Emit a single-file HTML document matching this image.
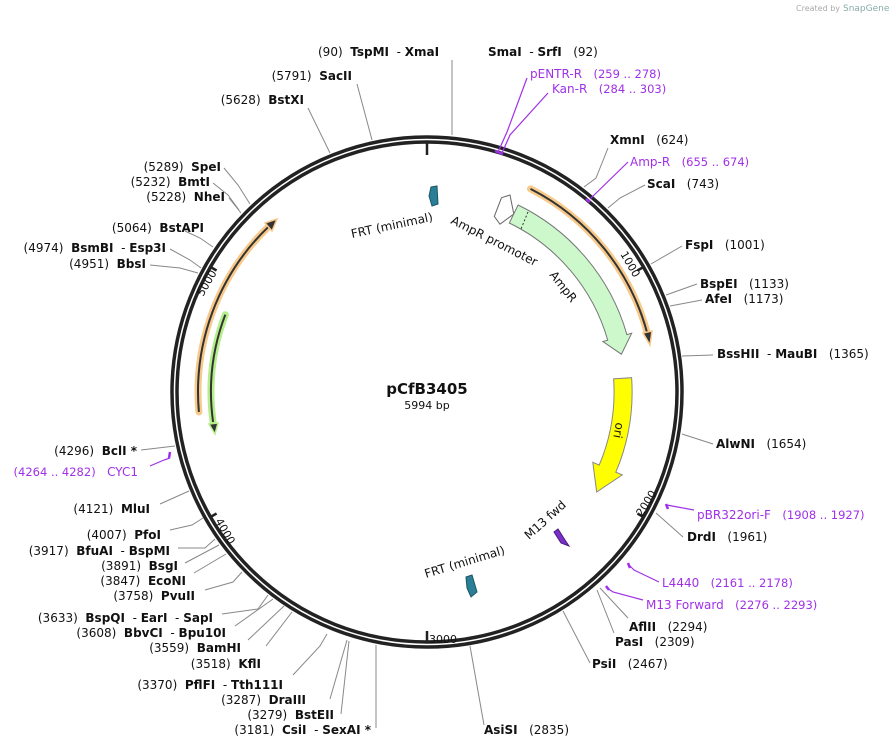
<!DOCTYPE html>
<html><head><meta charset="utf-8"><style>
body{margin:0;background:#fff}
svg{display:block}
text{font-family:"DejaVu Sans","Liberation Sans",sans-serif;font-size:12px;fill:#111;white-space:pre}
.b{font-weight:bold}
.p{fill:#a030e8}
.l{stroke:#888;stroke-width:1;fill:none}
.pl{stroke:#a030e8;stroke-width:1.2;fill:none}
.pm{stroke:#a030e8;stroke-width:2.5;fill:none}
</style></head><body>
<svg width="893" height="748" viewBox="0 0 893 748" xmlns="http://www.w3.org/2000/svg" xml:space="preserve">
<text x="796" y="11" style="font-size:8px;fill:#aaa">Created by</text>
<text x="843" y="11" style="font-size:9px;fill:#8aa">SnapGene</text>

<circle cx="427" cy="392" r="255" fill="none" stroke="#222" stroke-width="3.5"/>
<circle cx="427" cy="392" r="250" fill="none" stroke="#222" stroke-width="3.5"/>
<g stroke="#222" stroke-width="2.5">
<line x1="427" y1="141" x2="427" y2="155"/>
<g transform="rotate(60 427 392)"><line x1="427" y1="141" x2="427" y2="149"/></g>
<g transform="rotate(120 427 392)"><line x1="427" y1="141" x2="427" y2="149"/></g>
<g transform="rotate(180 427 392)"><line x1="427" y1="141" x2="427" y2="153"/></g>
<g transform="rotate(240 427 392)"><line x1="427" y1="141" x2="427" y2="149"/></g>
<g transform="rotate(300 427 392)"><line x1="427" y1="141" x2="427" y2="149"/></g>
</g>
<text transform="translate(620,254) rotate(60)" style="font-size:11px">1000</text>
<text transform="translate(642,517) rotate(-58)" style="font-size:11px">2000</text>
<text x="429" y="643" style="font-size:11px">3000</text>
<text transform="translate(215,521) rotate(60)" style="font-size:11px">4000</text>
<text transform="translate(203,297) rotate(-60)" style="font-size:11px">5000</text>

<path d="M530.5,188.9 A228,228 0 0 1 647.2,333" fill="none" stroke="#f7c98a" stroke-width="7" stroke-linecap="round"/>
<path d="M530.5,188.9 A228,228 0 0 1 647.2,333" fill="none" stroke="#333" stroke-width="2"/>
<polygon points="643,333 652,331 650,345" fill="#333" stroke="#f7c98a" stroke-width="1.5"/>
<path d="M198.9,412 A229,229 0 0 1 267.9,227.3" fill="none" stroke="#f7c98a" stroke-width="7" stroke-linecap="round"/>
<path d="M198.9,412 A229,229 0 0 1 267.9,227.3" fill="none" stroke="#333" stroke-width="2"/>
<polygon points="265,223 272,231 277,219" fill="#333" stroke="#f7c98a" stroke-width="1.5"/>
<path d="M225.3,314.7 A216,216 0 0 0 213.1,422" fill="none" stroke="#b5ee8a" stroke-width="7" stroke-linecap="round"/>
<path d="M225.3,314.7 A216,216 0 0 0 213.1,422" fill="none" stroke="#333" stroke-width="2"/>
<polygon points="209,424 218,423 215,434" fill="#333" stroke="#b5ee8a" stroke-width="1.5"/>

<polygon points="501.5,197.7 510,195 513.8,214 500,224.2 494.3,216.4" fill="#fff" stroke="#666" stroke-width="1"/>
<path d="M518.1,205 A208,208 0 0 1 626.9,334.6 L631.7,333.2 L621.4,354.2 L602.9,341.5 L607.7,340.1 A188,188 0 0 0 509.3,223 Z" fill="#ccf8cc" stroke="#777" stroke-width="1"/>
<line x1="528" y1="212" x2="521" y2="229" stroke="#333" stroke-dasharray="2,2"/>
<path d="M631.6,377.7 A205,205 0 0 1 615.8,472.2 L622.3,474.9 L596.7,492 L592.8,462.3 L599.2,465.1 A187,187 0 0 0 613.6,378.9 Z" fill="#ffff00" stroke="#888" stroke-width="1"/>
<polygon points="431,187 437,186 438,204 432,206 429,196" fill="#2a7f96" stroke="#1b5566" stroke-width="1"/>
<polygon points="466,577 472,575 477,592 471,597 467,588" fill="#2a7f96" stroke="#1b5566" stroke-width="1"/>
<polygon points="554,532 558,529 565,540 569,546 561,543" fill="#7b2ec8" stroke="#4a1a80" stroke-width="1"/>

<text transform="translate(352,238) rotate(-12)">FRT (minimal)</text>
<text transform="translate(450,223) rotate(27)">AmpR promoter</text>
<text transform="translate(549,275) rotate(52)">AmpR</text>
<text transform="translate(616,422) rotate(100)">ori</text>
<text transform="translate(529,540) rotate(-42)">M13 fwd</text>
<text transform="translate(426,578) rotate(-17)">FRT (minimal)</text>

<text x="427" y="394" text-anchor="middle" class="b" style="font-size:15px">pCfB3405</text>
<text x="427" y="409" text-anchor="middle" style="font-size:11px">5994 bp</text>

<path class="l" d="M452,135 L452,60"/>
<path class="l" d="M584,187 L596,178 L608,148"/>
<path class="l" d="M608,208 L620,198 L645,185"/>
<path class="l" d="M651,264 L682,246"/>
<path class="l" d="M666,295 L697,284"/>
<path class="l" d="M670,306 L702,300"/>
<path class="l" d="M682,356 L713,355"/>
<path class="l" d="M682,434 L713,444"/>
<path class="l" d="M656,513 L683,537"/>
<path class="l" d="M600,588 L628,618"/>
<path class="l" d="M597,590 L614,633"/>
<path class="l" d="M563,611 L590,663"/>
<path class="l" d="M470,646 L484,725"/>
<path class="l" d="M376,645 L376,728"/>
<path class="l" d="M349,641 L341,714"/>
<path class="l" d="M347,640 L330,699"/>
<path class="l" d="M327,634 L320,646 L293,675"/>
<path class="l" d="M292,612 L266,646"/>
<path class="l" d="M284,606 L248,640"/>
<path class="l" d="M273,599 L235,626"/>
<path class="l" d="M268,595 L258,609 L222,614"/>
<path class="l" d="M242,572 L233,582 L205,590"/>
<path class="l" d="M226,554 L194,573"/>
<path class="l" d="M219,545 L185,563"/>
<path class="l" d="M215,539 L205,548 L178,548"/>
<path class="l" d="M203,518 L192,525 L170,530"/>
<path class="l" d="M189,491 L160,504"/>
<path class="l" d="M175,446 L141,450"/>
<path class="l" d="M198,273 L180,268 L150,265"/>
<path class="l" d="M201,268 L190,260 L170,249"/>
<path class="l" d="M213,247 L200,238 L185,231"/>
<path class="l" d="M241,213 L229,198"/>
<path class="l" d="M239,210 L228,195 L213,183"/>
<path class="l" d="M250,204 L238,185 L224,168"/>
<path class="l" d="M330,153 L308,108"/>
<path class="l" d="M372,140 L357,84"/>
<path class="pm" d="M495,151 L503,154"/>
<path class="pl" d="M498,152 L507,132 L527,78"/>
<path class="pl" d="M502,153 L510,135 L548,93"/>
<path class="pm" d="M586,199 L590,202"/>
<path class="pl" d="M590,199 L628,162"/>
<path class="pm" d="M666,504 L668,509"/>
<path class="pl" d="M667,505 L672,506 L694,510"/>
<path class="pm" d="M628,563 L630,568"/>
<path class="pl" d="M629,565 L634,570 L659,582"/>
<path class="pm" d="M606,586 L609,590"/>
<path class="pl" d="M607,588 L613,592 L643,600"/>
<path class="pm" d="M170,452 L169,458"/>
<path class="pl" d="M170,458 L164,460 L150,466"/>

<text x="318" y="56">(90)  <tspan class="b">TspMI</tspan>  - <tspan class="b">XmaI</tspan></text>
<text x="488" y="56"><tspan class="b">SmaI</tspan>  - <tspan class="b">SrfI</tspan>   (92)</text>
<text x="530" y="78" class="p">pENTR-R   <tspan style="font-size:11.5px">(259 .. 278)</tspan></text>
<text x="552" y="93" class="p">Kan-R   <tspan style="font-size:11.5px">(284 .. 303)</tspan></text>
<text x="610" y="144"><tspan class="b">XmnI</tspan>   (624)</text>
<text x="630" y="166" class="p">Amp-R   <tspan style="font-size:11.5px">(655 .. 674)</tspan></text>
<text x="647" y="188"><tspan class="b">ScaI</tspan>   (743)</text>
<text x="685" y="249"><tspan class="b">FspI</tspan>   (1001)</text>
<text x="700" y="288"><tspan class="b">BspEI</tspan>   (1133)</text>
<text x="705" y="303"><tspan class="b">AfeI</tspan>   (1173)</text>
<text x="717" y="358"><tspan class="b">BssHII</tspan>  - <tspan class="b">MauBI</tspan>   (1365)</text>
<text x="716" y="448"><tspan class="b">AlwNI</tspan>   (1654)</text>
<text x="697" y="519" class="p">pBR322ori-F   <tspan style="font-size:11.5px">(1908 .. 1927)</tspan></text>
<text x="687" y="541"><tspan class="b">DrdI</tspan>   (1961)</text>
<text x="662" y="587" class="p">L4440   <tspan style="font-size:11.5px">(2161 .. 2178)</tspan></text>
<text x="646" y="609" class="p">M13 Forward   <tspan style="font-size:11.5px">(2276 .. 2293)</tspan></text>
<text x="629" y="631"><tspan class="b">AflII</tspan>   (2294)</text>
<text x="615" y="646"><tspan class="b">PasI</tspan>   (2309)</text>
<text x="592" y="668"><tspan class="b">PsiI</tspan>   (2467)</text>
<text x="484" y="734"><tspan class="b">AsiSI</tspan>   (2835)</text>
<g text-anchor="end">
<text x="352" y="80">(5791)  <tspan class="b">SacII</tspan></text>
<text x="304" y="104">(5628)  <tspan class="b">BstXI</tspan></text>
<text x="221" y="171">(5289)  <tspan class="b">SpeI</tspan></text>
<text x="210" y="186">(5232)  <tspan class="b">BmtI</tspan></text>
<text x="225" y="201">(5228)  <tspan class="b">NheI</tspan></text>
<text x="204" y="232">(5064)  <tspan class="b">BstAPI</tspan></text>
<text x="166" y="252">(4974)  <tspan class="b">BsmBI</tspan>  - <tspan class="b">Esp3I</tspan></text>
<text x="146" y="268">(4951)  <tspan class="b">BbsI</tspan></text>
<text x="137" y="455">(4296)  <tspan class="b">BclI *</tspan></text>
<text x="138" y="476" class="p"><tspan style="font-size:11.5px">(4264 .. 4282)</tspan>   CYC1</text>
<text x="150" y="513">(4121)  <tspan class="b">MluI</tspan></text>
<text x="161" y="539">(4007)  <tspan class="b">PfoI</tspan></text>
<text x="170" y="555">(3917)  <tspan class="b">BfuAI</tspan>  - <tspan class="b">BspMI</tspan></text>
<text x="178" y="570">(3891)  <tspan class="b">BsgI</tspan></text>
<text x="186" y="585">(3847)  <tspan class="b">EcoNI</tspan></text>
<text x="195" y="600">(3758)  <tspan class="b">PvuII</tspan></text>
<text x="213" y="622">(3633)  <tspan class="b">BspQI</tspan>  - <tspan class="b">EarI</tspan>  - <tspan class="b">SapI</tspan></text>
<text x="226" y="637">(3608)  <tspan class="b">BbvCI</tspan>  - <tspan class="b">Bpu10I</tspan></text>
<text x="241" y="652">(3559)  <tspan class="b">BamHI</tspan></text>
<text x="261" y="668">(3518)  <tspan class="b">KflI</tspan></text>
<text x="283" y="689">(3370)  <tspan class="b">PflFI</tspan>  - <tspan class="b">Tth111I</tspan></text>
<text x="306" y="704">(3287)  <tspan class="b">DraIII</tspan></text>
<text x="334" y="719">(3279)  <tspan class="b">BstEII</tspan></text>
<text x="371" y="734">(3181)  <tspan class="b">CsiI</tspan>  - <tspan class="b">SexAI *</tspan></text>
</g>
</svg>
</body></html>
